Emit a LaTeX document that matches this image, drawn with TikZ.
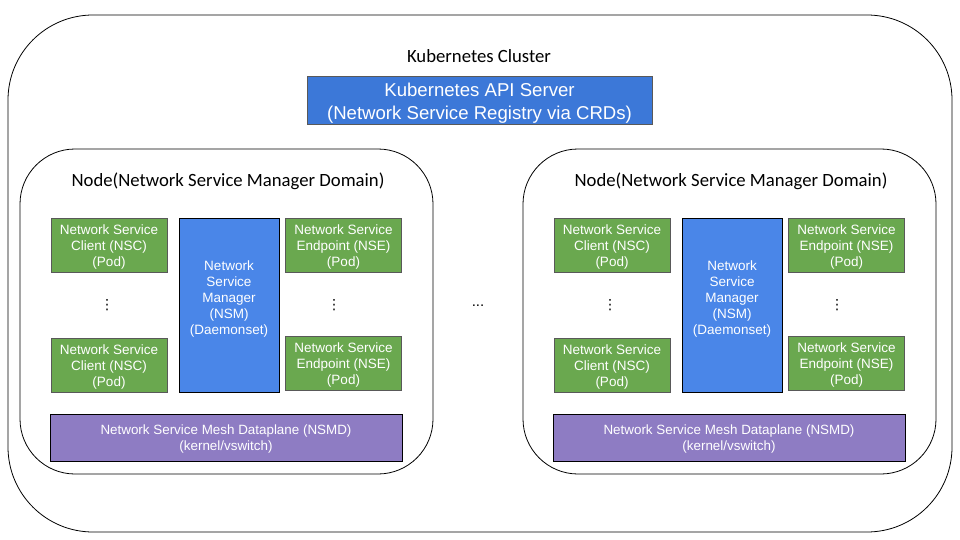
\documentclass[tikz,border=0pt]{standalone}
\usepackage{fontspec}
\setmainfont{Carlito}
\setsansfont{Liberation Sans}
\newfontfamily\dotsfont{DejaVu Sans}
\usepackage{tikz}

\definecolor{podgreen}{HTML}{6AA84F}
\definecolor{nsmblue}{HTML}{4A86E8}
\definecolor{apiblue}{HTML}{3C78D8}
\definecolor{dpviolet}{HTML}{8E7CC3}
\definecolor{boxgray}{HTML}{595959}

% lines of a box, moved up by #1 without changing its size
\newcommand{\boxlines}[2]{\raisebox{#1}[\height][\depth]{\begin{tabular}{@{}c@{}}#2\end{tabular}}}

\begin{document}
\begin{tikzpicture}[x=1pt, y=-1pt,
	box/.style={draw, line width=0.8pt, text=white, inner sep=0pt,
		font=\sffamily\fontsize{13.5}{16}\selectfont},
	pod/.style={box, draw=boxgray, fill=podgreen, minimum width=116, minimum height=54},
	nsm/.style={box, draw=black, fill=nsmblue, minimum width=100, minimum height=174},
	dataplane/.style={box, draw=black, fill=dpviolet, minimum width=352, minimum height=47,
		font=\sffamily\fontsize{13.4}{16}\selectfont},
	nodebox/.style={draw, line width=0.8pt, rounded corners=55},
	vdots/.style={font=\dotsfont\fontsize{14}{16}\selectfont, inner sep=0pt},
	title/.style={font=\fontsize{18.7}{20}\selectfont}]
	\useasboundingbox (0,0) rectangle (960,540);
	%cluster
	\draw[line width=0.8pt, rounded corners=85] (8,15) rectangle (952,532);
	\node[title] (cluster) at (479,56) {Kubernetes Cluster};
	\node[box, draw=boxgray, fill=apiblue, minimum width=345, minimum height=48,
		font=\sffamily\fontsize{18.6}{23}\selectfont] (api) at (479.5,100)
		{\boxlines{-3.6pt}{Kubernetes API Server\\(Network Service Registry via CRDs)}};
	%nodes
	\foreach \dx/\n in {0/L,503/R}
	{
		\draw[nodebox] (\dx+20,149) rectangle (\dx+433,474);
		\node[title] (domain\n) at (\dx+228,181) {Node(Network Service Manager Domain)};
		\node[pod] (nscA\n) at (\dx+109,245)
			{\boxlines{-2pt}{Network Service\\Client (NSC)\\(Pod)}};
		\node[pod] (nscB\n) at (\dx+109,365.5)
			{\boxlines{-2pt}{Network Service\\Client (NSC)\\(Pod)}};
		\node[vdots] (nscdots\n) at (\dx+107,305) {⋮};
		\node[nsm] (nsm\n) at (\dx+229,305)
			{\boxlines{5.4pt}{Network\\Service\\Manager\\(NSM)\\(Daemonset)}};
		\node[pod] (nseA\n) at (\dx+343.5,245)
			{\boxlines{-2pt}{Network Service\\Endpoint (NSE)\\(Pod)}};
		\node[pod] (nseB\n) at (\dx+343.5,363.5)
			{\boxlines{-2pt}{Network Service\\Endpoint (NSE)\\(Pod)}};
		\node[vdots] (nsedots\n) at (\dx+334,305) {⋮};
		\node[dataplane] (nsmd\n) at (\dx+226,437.5)
			{\boxlines{-2.1pt}{Network Service Mesh Dataplane (NSMD)\\(kernel/vswitch)}};
	}
	\node[font=\sffamily\fontsize{15}{16}\selectfont] (moredots) at (478,306) {...};
\end{tikzpicture}
\end{document}
